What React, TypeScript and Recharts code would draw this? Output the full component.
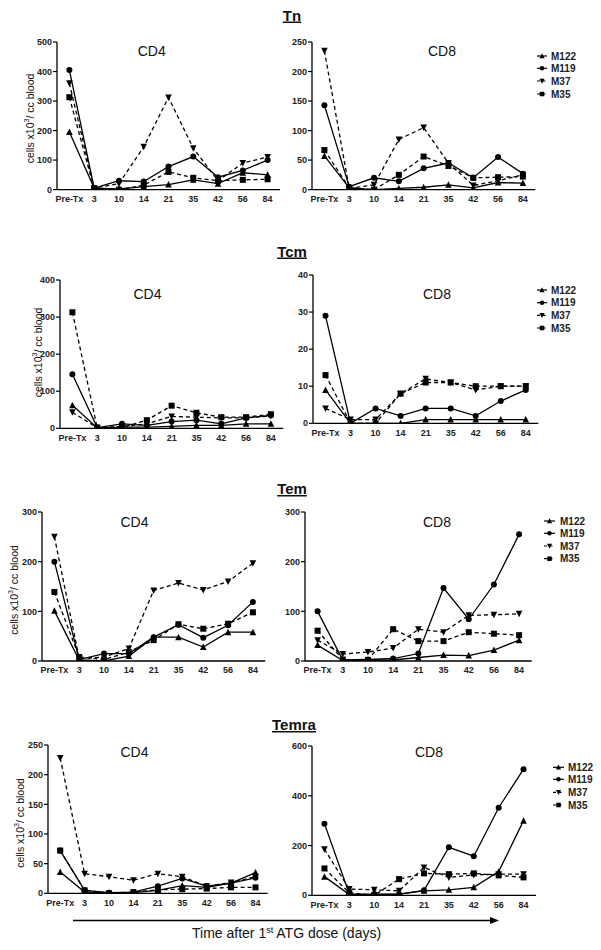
import React from "react";
import { LineChart, Line, XAxis, YAxis } from "recharts";

const days = ["Pre-Tx", "3", "10", "14", "21", "35", "42", "56", "84"];

// Tn
const tnCd4M122 = [195, 5, 2, 10, 17, 33, 20, 57, 50];
const tnCd4M119 = [405, 5, 30, 27, 78, 112, 42, 65, 100];
const tnCd4M37 = [360, 5, 20, 145, 312, 140, 30, 90, 110];
const tnCd4M35 = [313, 2, 0, 15, 60, 40, 30, 33, 35];
const tnCd8M122 = [57, 3, 0, 2, 4, 8, 3, 12, 11];
const tnCd8M119 = [143, 5, 20, 14, 36, 45, 20, 55, 27];
const tnCd8M37 = [235, 2, 8, 85, 105, 45, 7, 15, 25];
const tnCd8M35 = [67, 3, 0, 25, 56, 40, 20, 21, 22];

// Tcm
const tcmCd4M122 = [62, 1, 3, 3, 5, 8, 8, 12, 12];
const tcmCd4M119 = [146, 2, 12, 8, 18, 22, 12, 28, 35];
const tcmCd4M37 = [43, 2, 5, 12, 32, 30, 28, 28, 33];
const tcmCd4M35 = [313, 1, 2, 22, 61, 42, 30, 30, 38];
const tcmCd8M122 = [9, 0, 0, 0, 1, 1, 1, 1, 1];
const tcmCd8M119 = [29, 0, 4, 2, 4, 4, 2, 6, 9];
const tcmCd8M37 = [4, 1, 1, 8, 12, 11, 9, 10, 10];
const tcmCd8M35 = [13, 0, 0, 8, 11, 11, 10, 10, 10];

// Tem
const temCd4M122 = [101, 2, 0, 10, 48, 48, 28, 58, 58];
const temCd4M119 = [200, 3, 15, 15, 48, 73, 47, 72, 119];
const temCd4M37 = [250, 5, 8, 25, 142, 157, 143, 160, 197];
const temCd4M35 = [139, 8, 3, 18, 42, 74, 65, 75, 98];
const temCd8M122 = [32, 1, 1, 2, 7, 12, 11, 22, 42];
const temCd8M119 = [100, 2, 3, 5, 15, 147, 84, 154, 255];
const temCd8M37 = [42, 14, 18, 26, 64, 58, 92, 93, 95];
const temCd8M35 = [61, 3, 2, 64, 40, 40, 58, 55, 52];

// Temra
const temraCd4M122 = [36, 2, 1, 1, 5, 13, 10, 17, 35];
const temraCd4M119 = [72, 5, 1, 2, 12, 25, 12, 17, 26];
const temraCd4M37 = [228, 33, 28, 22, 33, 28, 12, 18, 28];
const temraCd4M35 = [72, 5, 0, 2, 6, 7, 8, 10, 10];
const temraCd8M122 = [75, 3, 3, 5, 18, 22, 32, 95, 300];
const temraCd8M119 = [288, 5, 5, 5, 20, 193, 157, 352, 507];
const temraCd8M37 = [185, 25, 22, 18, 112, 72, 82, 85, 85];
const temraCd8M35 = [108, 10, 0, 65, 88, 85, 88, 80, 72];

const monkeys = ["M122", "M119", "M37", "M35"];
const shapes = ["up", "circle", "down", "square"];
const dashes = [undefined, undefined, "4 3", "4 3"];

const build = (a: number[], b: number[], c: number[], d: number[]) =>
  days.map((day, i) => ({ day, M122: a[i], M119: b[i], M37: c[i], M35: d[i] }));

const FONT = "'Liberation Sans', Arial, sans-serif";
const YW = 40;
const MT = 8;
const MR = 4;
const XH = 20;

function Marker({ cx, cy, shape, s }: { cx: number; cy: number; shape: string; s: number }) {
  if (cx == null || cy == null) return null;
  const h = s / 2;
  if (shape === "circle") return <circle cx={cx} cy={cy} r={h} fill="#000" />;
  if (shape === "square") return <rect x={cx - h} y={cy - h} width={s} height={s} fill="#000" />;
  if (shape === "up")
    return <polygon points={`${cx},${cy - h - 0.5} ${cx - h - 0.3},${cy + h} ${cx + h + 0.3},${cy + h}`} fill="#000" />;
  return <polygon points={`${cx},${cy + h + 0.5} ${cx - h - 0.3},${cy - h} ${cx + h + 0.3},${cy - h}`} fill="#000" />;
}

type Box = { x0: number; x1: number; y0: number; y1: number };

function Panel({ box, data, max, ticks }: { box: Box; data: any[]; max: number; ticks: number[] }) {
  const plotW = box.x1 - box.x0;
  const plotH = box.y1 - box.y0;
  const pad = plotW / 18;
  return (
    <div style={{ position: "absolute", left: box.x0 - YW, top: box.y0 - MT }}>
      <LineChart
        width={YW + plotW + MR}
        height={MT + plotH + XH}
        data={data}
        margin={{ top: MT, right: MR, left: 0, bottom: 0 }}
      >
        <XAxis
          dataKey="day"
          height={XH}
          interval={0}
          padding={{ left: pad, right: pad }}
          tickLine={false}
          tickSize={4}
          axisLine={{ stroke: "#000", strokeWidth: 1.3 }}
          tick={{ fontSize: 9, fontWeight: "bold", fill: "#222", fontFamily: FONT }}
        />
        <YAxis
          width={YW}
          domain={[0, max]}
          ticks={ticks}
          interval={0}
          allowDataOverflow
          tickSize={4}
          tickMargin={1}
          axisLine={{ stroke: "#000", strokeWidth: 1.3 }}
          tickLine={{ stroke: "#000", strokeWidth: 1.2 }}
          tick={{ fontSize: 9, fontWeight: "bold", fill: "#222", fontFamily: FONT }}
        />
        {monkeys.map((m, i) => (
          <Line
            key={m}
            dataKey={m}
            type="linear"
            stroke="#000"
            strokeWidth={1.3}
            strokeDasharray={dashes[i]}
            isAnimationActive={false}
            dot={(p: any) => <Marker key={`${m}-${p.index}`} cx={p.cx} cy={p.cy} shape={shapes[i]} s={6} />}
            activeDot={false}
          />
        ))}
      </LineChart>
    </div>
  );
}

function Legend({ x0, x1, tx, ys }: { x0: number; x1: number; tx: number; ys: number[] }) {
  return (
    <g>
      {monkeys.map((m, i) => (
        <g key={m}>
          <line x1={x0} x2={x1} y1={ys[i]} y2={ys[i]} stroke="#000" strokeWidth={1.2} strokeDasharray={dashes[i] ? "3 2.5" : undefined} />
          <Marker cx={(x0 + x1) / 2} cy={ys[i]} shape={shapes[i]} s={4.5} />
          <text x={tx} y={ys[i] + 3.5} fontSize={10} fontWeight="bold" fill="#222" fontFamily={FONT}>
            {m}
          </text>
        </g>
      ))}
    </g>
  );
}

function YLabel({ x, y }: { x: number; y: number }) {
  return (
    <text
      transform={`translate(${x},${y}) rotate(-90)`}
      textAnchor="middle"
      dominantBaseline="central"
      fontSize={10.5}
      fill="#111"
      fontFamily={FONT}
    >
      cells x10
      <tspan dy={-4} fontSize={7}>3</tspan>
      <tspan dy={4}>/ cc blood</tspan>
    </text>
  );
}

const titles = [
  { t: "Tn", x: 292, y: 20.5 },
  { t: "Tcm", x: 292, y: 256.5 },
  { t: "Tem", x: 292, y: 494 },
  { t: "Temra", x: 294, y: 730 },
];

const panelLabels = [
  { t: "CD4", x: 151.7, y: 56 },
  { t: "CD8", x: 442, y: 56 },
  { t: "CD4", x: 147.5, y: 299 },
  { t: "CD8", x: 437, y: 299 },
  { t: "CD4", x: 134.5, y: 527 },
  { t: "CD8", x: 437, y: 527 },
  { t: "CD4", x: 134.5, y: 757 },
  { t: "CD8", x: 429, y: 757 },
];

export default function App() {
  return (
    <div style={{ position: "absolute", left: 0, top: 0, width: 601, height: 950, background: "#fff", fontFamily: FONT }}>
      <Panel box={{ x0: 57, x1: 280, y0: 41.7, y1: 189.3 }} data={build(tnCd4M122, tnCd4M119, tnCd4M37, tnCd4M35)} max={500} ticks={[0, 100, 200, 300, 400, 500]} />
      <Panel box={{ x0: 311.7, x1: 535, y0: 41.7, y1: 189.3 }} data={build(tnCd8M122, tnCd8M119, tnCd8M37, tnCd8M35)} max={250} ticks={[0, 50, 100, 150, 200, 250]} />
      <Panel box={{ x0: 60, x1: 283.3, y0: 280, y1: 428.3 }} data={build(tcmCd4M122, tcmCd4M119, tcmCd4M37, tcmCd4M35)} max={400} ticks={[0, 100, 200, 300, 400]} />
      <Panel box={{ x0: 313, x1: 538.3, y0: 275, y1: 423.3 }} data={build(tcmCd8M122, tcmCd8M119, tcmCd8M37, tcmCd8M35)} max={40} ticks={[0, 10, 20, 30, 40]} />
      <Panel box={{ x0: 41.7, x1: 265, y0: 511.7, y1: 660.7 }} data={build(temCd4M122, temCd4M119, temCd4M37, temCd4M35)} max={300} ticks={[0, 100, 200, 300]} />
      <Panel box={{ x0: 305, x1: 531.7, y0: 511.7, y1: 660.7 }} data={build(temCd8M122, temCd8M119, temCd8M37, temCd8M35)} max={300} ticks={[0, 100, 200, 300]} />
      <Panel box={{ x0: 48.3, x1: 268, y0: 745, y1: 893.3 }} data={build(temraCd4M122, temraCd4M119, temraCd4M37, temraCd4M35)} max={250} ticks={[0, 50, 100, 150, 200, 250]} />
      <Panel box={{ x0: 311.7, x1: 535.7, y0: 745.7, y1: 895 }} data={build(temraCd8M122, temraCd8M119, temraCd8M37, temraCd8M35)} max={600} ticks={[0, 200, 400, 600]} />

      <svg width={601} height={950} style={{ position: "absolute", left: 0, top: 0, pointerEvents: "none" }}>
        {titles.map((t) => (
          <text key={t.t} x={t.x} y={t.y} textAnchor="middle" fontSize={15} fontWeight="bold" textDecoration="underline" fill="#111" fontFamily={FONT}>
            {t.t}
          </text>
        ))}
        {panelLabels.map((p, i) => (
          <text key={i} x={p.x} y={p.y} textAnchor="middle" fontSize={14} fill="#111" fontFamily={FONT}>
            {p.t}
          </text>
        ))}
        <YLabel x={30} y={118.5} />
        <YLabel x={38.3} y={352.5} />
        <YLabel x={14} y={590} />
        <YLabel x={20} y={823} />
        <Legend x0={537} x1={547} tx={551} ys={[56, 68.3, 81, 94]} />
        <Legend x0={537} x1={547} tx={551} ys={[290, 302.7, 315.3, 328]} />
        <Legend x0={544} x1={555} tx={560} ys={[521, 533.3, 546, 558.7]} />
        <Legend x0={553} x1={564} tx={568} ys={[767.3, 779.3, 792.3, 805]} />
        <line x1={73} x2={492} y1={920.5} y2={920.5} stroke="#000" strokeWidth={1.5} />
        <polygon points="499,920.5 490,917 490,924" fill="#000" />
        <text x={192} y={937.5} fontSize={14} fill="#111" fontFamily={FONT}>
          Time after 1<tspan dy={-5} fontSize={9}>st</tspan>
          <tspan dy={5}> ATG dose (days)</tspan>
        </text>
      </svg>
    </div>
  );
}
